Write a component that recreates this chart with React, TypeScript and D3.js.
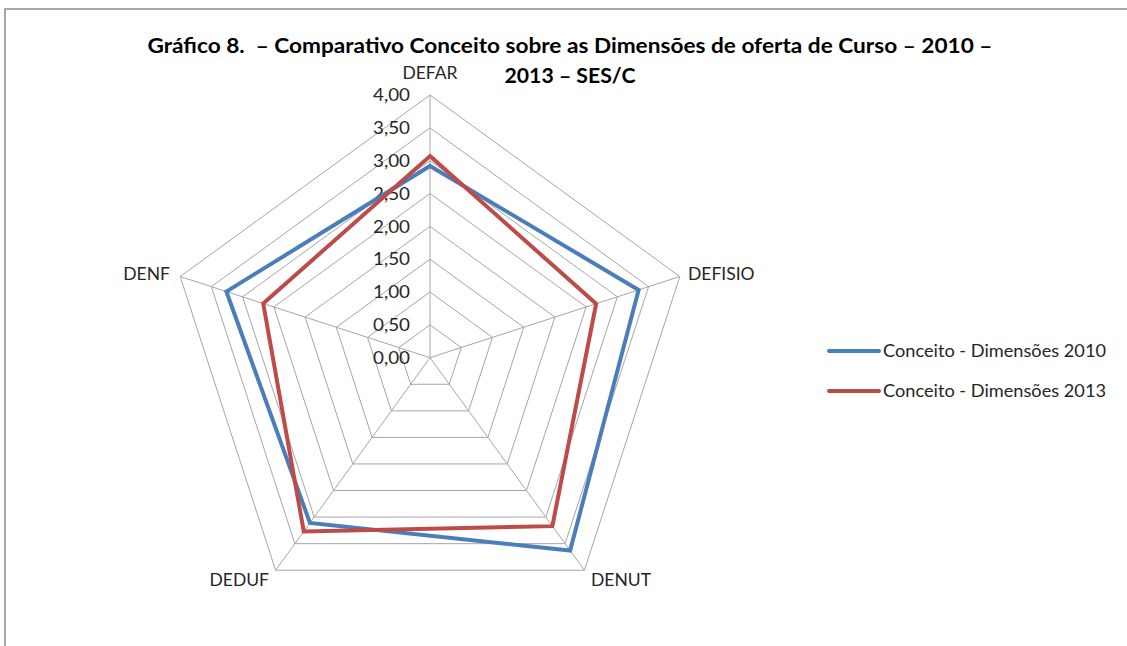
import React from "react";
import * as d3 from "d3";

const categories: string[] = ["DEFAR", "DEFISIO", "DENUT", "DEDUF", "DENF"];
const series2010: number[] = [2.92, 3.34, 3.63, 3.11, 3.26];
const series2013: number[] = [3.07, 2.66, 3.17, 3.27, 2.67];
const seriesNames: string[] = ["Conceito - Dimensões 2010", "Conceito - Dimensões 2013"];
const tickValues: number[] = [0, 0.5, 1, 1.5, 2, 2.5, 3, 3.5, 4];
const titleLines: string[] = [
  "Gráfico 8.  – Comparativo Conceito sobre as Dimensões de oferta de Curso – 2010 –",
  "2013 – SES/C",
];

const W = 1127;
const H = 646;
const cx = 430;
const cy = 357.7;
const R = 262.7;
const colors = ["#4a7ebb", "#be4b48"];
const font = "Lato, 'Open Sans', sans-serif";

export default function App() {
  const r = d3.scaleLinear().domain([0, 4]).range([0, R]);
  const angle = d3
    .scaleLinear()
    .domain([0, categories.length])
    .range([0, 2 * Math.PI]);
  const pt = (i: number, v: number): [number, number] => {
    const a = angle(i);
    return [cx + r(v) * Math.sin(a), cy - r(v) * Math.cos(a)];
  };
  const ring = (v: number) =>
    d3.line()(categories.map((_, i) => pt(i, v))) + "Z";
  const seriesPath = (vals: number[]) =>
    d3.line()(vals.map((v, i) => pt(i, v))) + "Z";

  const labelPos = [
    { x: 430, y: 78.5, anchor: "middle" },
    { x: 688, y: 279.5, anchor: "start" },
    { x: 591, y: 585.5, anchor: "start" },
    { x: 269, y: 585.5, anchor: "end" },
    { x: 170, y: 279.5, anchor: "end" },
  ];

  return (
    <svg
      width={W}
      height={H}
      style={{ position: "absolute", left: 0, top: 0, background: "#fff" }}
    >
      <rect x={5} y={9} width={W + 10} height={H + 10} fill="#fff" stroke="#8c8c8c" strokeWidth={1.5} />
      <text x={570} y={52.5} textAnchor="middle" fontFamily={font} fontWeight="bold" fontSize={20} fill="#000"
        textLength={845} lengthAdjust="spacingAndGlyphs" style={{ whiteSpace: "pre" }}>
        {titleLines[0]}
      </text>
      <text x={570} y={82.5} textAnchor="middle" fontFamily={font} fontWeight="bold" fontSize={20} fill="#000"
        textLength={131} lengthAdjust="spacingAndGlyphs">
        {titleLines[1]}
      </text>
      <g fill="none" stroke="#a6a6a6" strokeWidth={1}>
        {tickValues.slice(1).map((t) => (
          <path key={t} d={ring(t)} />
        ))}
        {categories.map((c, i) => {
          const [x, y] = pt(i, 4);
          return <line key={c} x1={cx} y1={cy} x2={x} y2={y} />;
        })}
      </g>
      {tickValues.map((t) => (
        <text key={t} x={410} y={cy - r(t) + 6.3} textAnchor="end" fontFamily={font} fontSize={17.5} fill="#262626"
          textLength={37} lengthAdjust="spacingAndGlyphs">
          {d3.format(".2f")(t).replace(".", ",")}
        </text>
      ))}
      {[series2010, series2013].map((s, k) => (
        <path key={k} d={seriesPath(s)} fill="none" stroke={colors[k]} strokeWidth={4} strokeLinejoin="miter" />
      ))}
      {categories.map((c, i) => (
        <text key={c} x={labelPos[i].x} y={labelPos[i].y} textAnchor={labelPos[i].anchor as any}
          fontFamily={font} fontSize={17.5} fill="#262626">
          {c}
        </text>
      ))}
      {seriesNames.map((n, k) => (
        <g key={n}>
          <line x1={829} x2={879} y1={351 + k * 40} y2={351 + k * 40} stroke={colors[k]} strokeWidth={4} strokeLinecap="round" />
          <text x={883} y={357 + k * 40} fontFamily={font} fontSize={17.5} fill="#262626"
            textLength={223} lengthAdjust="spacingAndGlyphs">
            {n}
          </text>
        </g>
      ))}
    </svg>
  );
}
